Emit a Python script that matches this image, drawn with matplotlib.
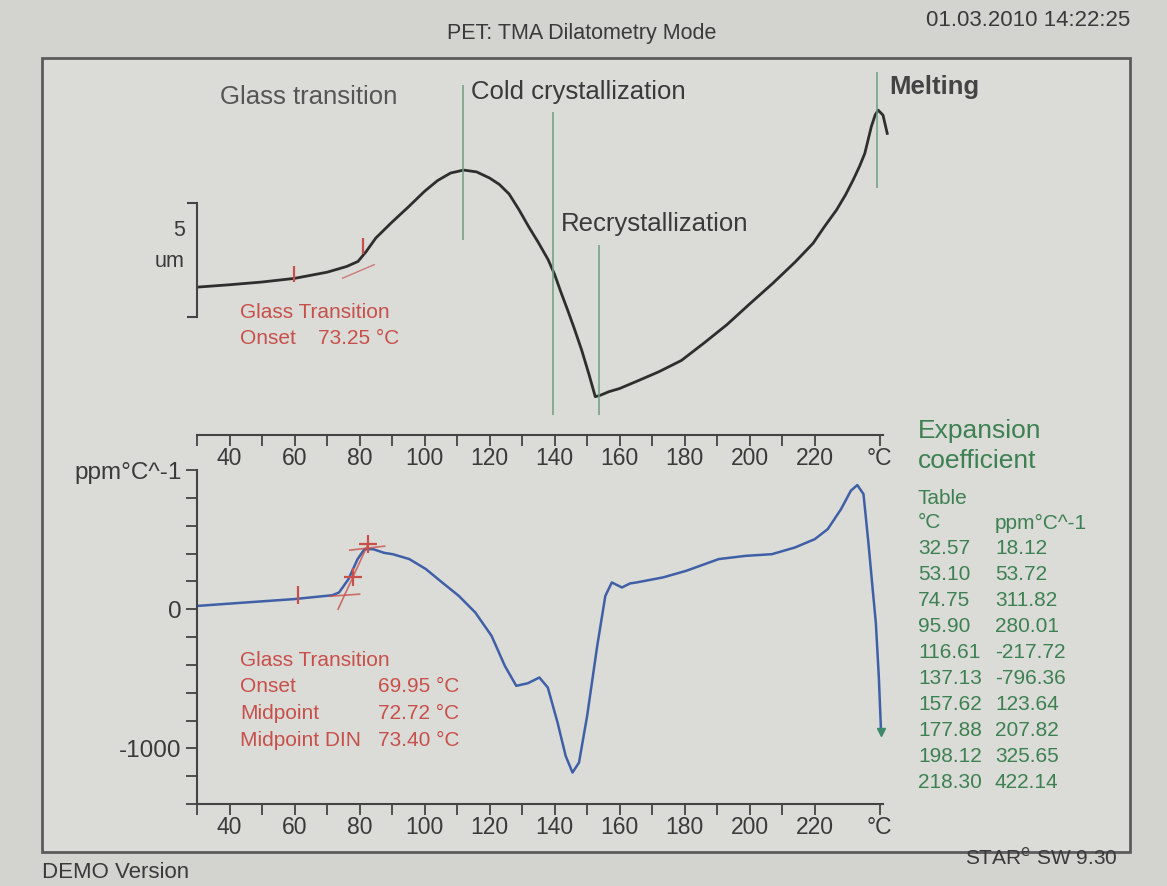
import matplotlib
matplotlib.use("Agg")
import matplotlib.pyplot as plt
from matplotlib.patches import Rectangle
from matplotlib.transforms import blended_transform_factory

W, H = 1167, 886

# TMA dimension change (um) vs temperature (°C)
tma_temp = [30.5, 40, 50, 60, 70, 76, 79.5, 82, 85, 90, 95, 100, 104, 108, 112, 116,
            120, 123, 126, 129, 132, 135, 138, 140, 142, 144, 146, 148.3, 150.5, 152.5,
            154, 156.7, 160, 165, 172, 179, 186, 193, 200, 207, 214, 219.5, 223, 226.7,
            229.5, 231.8, 233.8, 235.4, 237.4, 238.6, 239.5, 241, 242.3]
tma_um = [0.00, 0.10, 0.22, 0.38, 0.65, 0.90, 1.12, 1.55, 2.15, 2.85, 3.51, 4.20, 4.67,
          5.00, 5.13, 5.05, 4.78, 4.50, 4.08, 3.40, 2.65, 1.95, 1.20, 0.55, -0.25, -1.01,
          -1.80, -2.76, -3.80, -4.81, -4.75, -4.59, -4.45, -4.15, -3.72, -3.22, -2.45,
          -1.65, -0.74, 0.15, 1.10, 1.92, 2.65, 3.38, 4.05, 4.69, 5.30, 5.86, 7.03, 7.55,
          7.76, 7.54, 6.74]

# expansion coefficient (ppm/°C) vs temperature (°C)
cte_temp = [30.5, 44.9, 59.7, 71.6, 73.7, 76.6, 79.4, 81.5, 84.2, 87.5, 90.2, 95.3,
            100.4, 105.4, 110.5, 115.6, 120.6, 124.7, 128.2, 131.8, 135.3, 137.9, 140.9,
            143.4, 145.5, 147.5, 150, 153.1, 155.6, 157.6, 160.7, 163.2, 165.2, 173.3,
            180.4, 190.5, 198.7, 206.8, 213.9, 220, 224, 228.1, 231.1, 233.1, 235,
            236.5, 237.8, 238.8, 239.7, 240.4]
cte_ppm = [24, 48, 72, 100, 120, 216, 360, 431, 431, 405, 395, 360, 288, 192, 96, -24,
           -192, -408, -551, -532, -491, -563, -815, -1055, -1174, -1102, -767, -264, 96,
           192, 156, 185, 192, 228, 275, 360, 383, 395, 443, 503, 575, 719, 851, 892, 827,
           480, 150, -100, -480, -880]

# evaluation marks
event_temp = [111.7, 139.4, 153.8, 239.3]
event_lo = [2.06, -5.61, -5.61, 4.34]
event_hi = [8.86, 7.68, 1.84, 9.43]
tg_top_temp = [59.7, 81.0]
tg_top_um = [0.58, 1.80]
tg_bot_temp = [61, 78, 82.6]
tg_bot_ppm = [100, 230, 470]

table_temp = ["32.57", "53.10", "74.75", "95.90", "116.61", "137.13", "157.62",
              "177.88", "198.12", "218.30"]
table_cte = ["18.12", "53.72", "311.82", "280.01", "-217.72", "-796.36", "123.64",
             "207.82", "325.65", "422.14"]

tick_major = list(range(40, 221, 20))
tick_minor = list(range(30, 241, 20))

plt.rcParams["font.family"] = ["Liberation Sans", "DejaVu Sans"]
BG = "#d3d3d0"
INNER = "#dbdbd8"
TXT = "#3a3a3a"
RED = "#c8504a"
GREEN = "#3d8152"
VLINE = "#6f9e7f"

fig = plt.figure(figsize=(W / 100, H / 100), dpi=100, facecolor=BG)
fig.patches.append(Rectangle((42 / W, 1 - 852 / H), (1130 - 42) / W, (852 - 58) / H,
                             transform=fig.transFigure, facecolor=INNER,
                             edgecolor="#5c5c5c", lw=2, zorder=-5))


def ftext(x, y, s, **kw):
    kw.setdefault("va", "center")
    kw.setdefault("color", TXT)
    fig.text(x / W, 1 - y / H, s, **kw)


def style_xaxis(ax):
    ax.set_xlim(30, 241)
    ax.set_xticks(tick_major + [240])
    ax.set_xticklabels([str(t) for t in tick_major] + ["°C"])
    ax.set_xticks(tick_minor[:-1], minor=True)
    ax.tick_params(axis="x", which="both", direction="out", length=8, width=1.3,
                   colors="#444", labelsize=16.5, labelcolor=TXT, pad=0.5)
    ax.spines["bottom"].set_linewidth(1.5)
    ax.spines["bottom"].set_color("#444")


# top panel: TMA curve
ax1 = fig.add_axes([197 / W, 1 - 435 / H, (883 - 197) / W, (435 - 62) / H])
ax1.set_facecolor("none")
ax1.plot(tma_temp, tma_um, color="#2e2e2e", lw=2, clip_on=False)
ax1.vlines(event_temp, event_lo, event_hi, color=VLINE, lw=1.1)
ax1.plot(tg_top_temp, tg_top_um, ls="none", marker="|", ms=11, mew=1.6, color=RED)
ax1.plot([74.8, 84.5], [0.39, 0.98], color=RED, lw=1, alpha=0.7)
ax1.set_ylim(-6.49, 9.87)
for s in ["top", "right"]:
    ax1.spines[s].set_visible(False)
ax1.spines["left"].set_bounds(-1.32, 3.68)
ax1.spines["left"].set_color("#444")
ax1.spines["left"].set_linewidth(1.5)
ax1.set_yticks([-1.32, 3.68])
ax1.set_yticklabels([])
ax1.tick_params(axis="y", direction="out", length=7, width=1.5, colors="#444")
style_xaxis(ax1)
tr = blended_transform_factory(ax1.transAxes, ax1.transData)
ax1.text(-0.018, 2.5, "5", transform=tr, ha="right", va="center", fontsize=15.5, color=TXT)
ax1.text(-0.018, 1.1, "um", transform=tr, ha="right", va="center", fontsize=15.5, color=TXT)

# bottom panel: expansion coefficient
ax2 = fig.add_axes([197 / W, 1 - 804 / H, (883 - 197) / W, (804 - 470) / H])
ax2.set_facecolor("none")
ax2.plot(cte_temp, cte_ppm, color="#3f5fa6", lw=1.8, clip_on=False)
ax2.plot(tg_bot_temp[:1], tg_bot_ppm[:1], ls="none", marker="|", ms=13, mew=1.6, color=RED)
ax2.plot(tg_bot_temp[1:], tg_bot_ppm[1:], ls="none", marker="+", ms=13, mew=1.6, color=RED)
ax2.plot([73.4, 82.6], [0, 467], color=RED, lw=1.2, alpha=0.8)
ax2.plot([71, 80], [93, 108], color=RED, lw=1.2, alpha=0.8)
ax2.plot([77, 87.7], [424, 453], color=RED, lw=1.2, alpha=0.8)
ax2.plot(cte_temp[-1:], cte_ppm[-1:], ls="none", marker="v", ms=6, color="#3c8a6a", clip_on=False)
ax2.set_ylim(-1400, 1000)
for s in ["top", "right"]:
    ax2.spines[s].set_visible(False)
ax2.spines["left"].set_color("#444")
ax2.spines["left"].set_linewidth(1.5)
yt = list(range(-1400, 1001, 200))
ax2.set_yticks(yt)
ax2.set_yticklabels(["0" if v == 0 else "-1000" if v == -1000 else
                     "ppm°C^-1" if v == 1000 else "" for v in yt])
ax2.tick_params(axis="y", direction="out", length=8, width=1.3, colors="#444",
                labelsize=17.5, labelcolor=TXT, pad=3)
style_xaxis(ax2)

# event labels
ftext(220, 97, "Glass transition", fontsize=18.5, color="#555555")
ftext(471, 92, "Cold crystallization", fontsize=18.5)
ftext(561, 224, "Recrystallization", fontsize=18.5)
ftext(889, 87, "Melting", fontsize=18.5, fontweight="bold", color="#444444")

# glass transition results
ftext(240, 312, "Glass Transition", fontsize=15, color=RED)
ftext(240, 338, "Onset", fontsize=15, color=RED)
ftext(318, 338, "73.25 °C", fontsize=15, color=RED)
ftext(240, 661, "Glass Transition", fontsize=15, color=RED)
for i, (name, val) in enumerate([("Onset", "69.95 °C"), ("Midpoint", "72.72 °C"),
                                 ("Midpoint DIN", "73.40 °C")]):
    ftext(240, 687 + i * 26.5, name, fontsize=15, color=RED)
    ftext(378, 687 + i * 26.5, val, fontsize=15, color=RED)

# expansion coefficient table
ftext(918, 431, "Expansion", fontsize=19, color=GREEN)
ftext(918, 461, "coefficient", fontsize=19, color=GREEN)
ftext(918, 499, "Table", fontsize=15, color=GREEN)
ftext(918, 523, "°C", fontsize=15, color=GREEN)
ftext(995, 523, "ppm°C^-1", fontsize=15, color=GREEN)
for i, (t, c) in enumerate(zip(table_temp, table_cte)):
    ftext(918, 549 + i * 26, t, fontsize=15, color=GREEN)
    ftext(995, 549 + i * 26, c, fontsize=15, color=GREEN)

# header / footer
ftext(582, 33, "PET: TMA Dilatometry Mode", fontsize=15.5, ha="center")
ftext(1130, 21, "01.03.2010 14:22:25", fontsize=16, ha="right")
ftext(42, 873, "DEMO Version", fontsize=16)
ftext(1118, 857, "STAR$^\\mathrm{e}$ SW 9.30", fontsize=15, ha="right")

fig.savefig("out.png", dpi=100, facecolor=fig.get_facecolor())
